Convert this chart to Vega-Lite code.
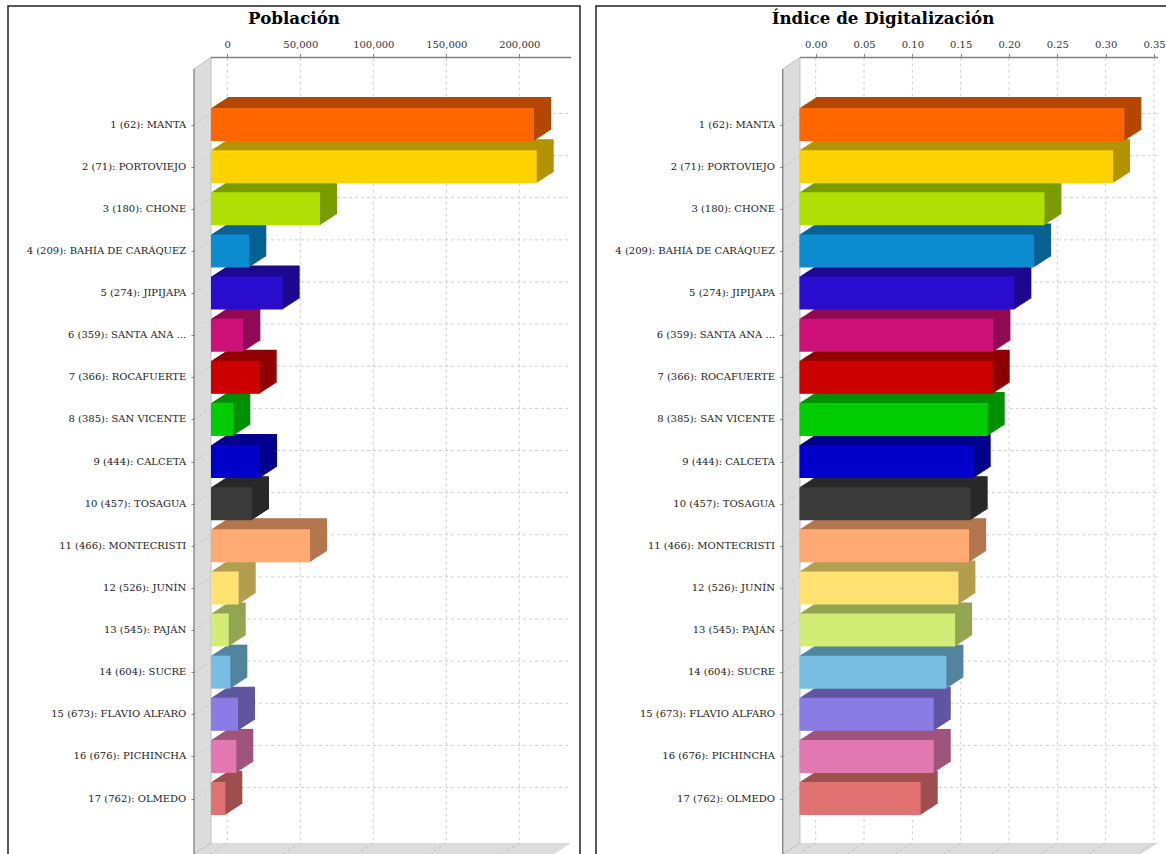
{"$schema":"https://vega.github.io/schema/vega-lite/v6.json","background":"white","padding":{"left":7,"top":5,"right":0,"bottom":0},"spacing":14,"config":{"axis":{"labelFont":"DejaVu Serif","labelFontSize":10,"labelColor":"#333","tickColor":"#808080"},"title":{"font":"DejaVu Serif","fontWeight":"bold","fontSize":16.7,"color":"black"}},
"datasets":{
"bars":[
{"rank":1,"label":"1 (62): MANTA","poblacion":221233,"indice":0.3362},
{"rank":2,"label":"2 (71): PORTOVIEJO","poblacion":223082,"indice":0.3245},
{"rank":3,"label":"3 (180): CHONE","poblacion":74657,"indice":0.2535},
{"rank":4,"label":"4 (209): BAHÍA DE CARÁQUEZ","poblacion":26230,"indice":0.2428},
{"rank":5,"label":"5 (274): JIPIJAPA","poblacion":49090,"indice":0.2224},
{"rank":6,"label":"6 (359): SANTA ANA ...","poblacion":22150,"indice":0.2007},
{"rank":7,"label":"7 (366): ROCAFUERTE","poblacion":33340,"indice":0.2},
{"rank":8,"label":"8 (385): SAN VICENTE","poblacion":15290,"indice":0.1948},
{"rank":9,"label":"9 (444): CALCETA","poblacion":33560,"indice":0.1803},
{"rank":10,"label":"10 (457): TOSAGUA","poblacion":28080,"indice":0.1772},
{"rank":11,"label":"11 (466): MONTECRISTI","poblacion":67800,"indice":0.1756},
{"rank":12,"label":"12 (526): JUNÍN","poblacion":18970,"indice":0.1645},
{"rank":13,"label":"13 (545): PAJÁN","poblacion":12120,"indice":0.1611},
{"rank":14,"label":"14 (604): SUCRE","poblacion":13250,"indice":0.1521},
{"rank":15,"label":"15 (673): FLAVIO ALFARO","poblacion":18490,"indice":0.139},
{"rank":16,"label":"16 (676): PICHINCHA","poblacion":17330,"indice":0.139},
{"rank":17,"label":"17 (762): OLMEDO","poblacion":9800,"indice":0.1255}],
"gridRows":[{"rank":1,"back":0.7389},{"rank":2,"back":1.7389},{"rank":3,"back":2.7389},{"rank":4,"back":3.7389},{"rank":5,"back":4.7389},{"rank":6,"back":5.7389},{"rank":7,"back":6.7389},{"rank":8,"back":7.7389},{"rank":9,"back":8.7389},{"rank":10,"back":9.7389},{"rank":11,"back":10.7389},{"rank":12,"back":11.7389},{"rank":13,"back":12.7389},{"rank":14,"back":13.7389},{"rank":15,"back":14.7389},{"rank":16,"back":15.7389},{"rank":17,"back":16.7389}],
"ticks1":[{"tick":0,"front":-11644},{"tick":50000,"front":38356},{"tick":100000,"front":88356},{"tick":150000,"front":138356},{"tick":200000,"front":188356}],
"ticks2":[{"tick":0,"front":-0.01759},{"tick":0.05,"front":0.03241},{"tick":0.1,"front":0.08241},{"tick":0.15,"front":0.13241},{"tick":0.2,"front":0.18241},{"tick":0.25,"front":0.23241},{"tick":0.3,"front":0.28241},{"tick":0.35,"front":0.33241}],
"wall1":[{"x":-22808,"y":-0.3175,"y2":18.3175},{"x":-11164,"y":-0.5905,"y2":18.0564}],
"floor1":[{"x":-22808,"y":18.3175,"y2":18.3175},{"x":-11164,"y":18.0564,"y2":18.3175},{"x":223767,"y":18.0564,"y2":18.3175},{"x":235411,"y":18.0564,"y2":18.0564}],
"dark1":[{"x":-11164,"x2":235411,"y":-0.5905,"y2":-0.5905},{"x":-22808,"x2":-22808,"y":-0.3175,"y2":18.3175}],
"light1":[{"x":-11164,"x2":-11164,"y":-0.5905,"y2":18.0564},{"x":-22808,"x2":-11164,"y":-0.3175,"y2":-0.5905},{"x":-22808,"x2":-11164,"y":18.3175,"y2":18.0564}],
"wall2":[{"x":-0.0341,"y":-0.3175,"y2":18.3175},{"x":-0.01624,"y":-0.5905,"y2":18.0564}],
"floor2":[{"x":-0.0341,"y":18.3175,"y2":18.3175},{"x":-0.01624,"y":18.0564,"y2":18.3175},{"x":0.3365,"y":18.0564,"y2":18.3175},{"x":0.3541,"y":18.0564,"y2":18.0564}],
"dark2":[{"x":-0.01624,"x2":0.3541,"y":-0.5905,"y2":-0.5905},{"x":-0.0341,"x2":-0.0341,"y":-0.3175,"y2":18.3175}],
"light2":[{"x":-0.01624,"x2":-0.01624,"y":-0.5905,"y2":18.0564},{"x":-0.0341,"x2":-0.01624,"y":-0.3175,"y2":-0.5905},{"x":-0.0341,"x2":-0.01624,"y":18.3175,"y2":18.0564}]
},
"hconcat":[
{"width":572,"height":864,"view":{"stroke":"#222","strokeWidth":1.5},"title":{"text":"Población","anchor":"middle","offset":-22},
"layer":[
{"data":{"name":"wall1"},"mark":{"type":"area","orient":"vertical","color":"#dcdcdc"},"encoding":{"x":{"field":"x","type":"quantitative","scale":{"domain":[-150205,241575],"nice":false,"zero":false},"title":null},"y":{"field":"y","type":"quantitative","scale":{"domain":[-1.8131,18.6973],"reverse":true,"nice":false,"zero":false,"padding":0},"title":null},"y2":{"field":"y2"}}},
{"data":{"name":"floor1"},"mark":{"type":"area","orient":"vertical","color":"#dcdcdc"},"encoding":{"x":{"field":"x","type":"quantitative","scale":{"domain":[-150205,241575],"nice":false,"zero":false},"title":null},"y":{"field":"y","type":"quantitative","scale":{"domain":[-1.8131,18.6973],"reverse":true,"nice":false,"zero":false,"padding":0},"title":null},"y2":{"field":"y2"}}},
{"data":{"name":"gridRows"},"mark":{"type":"rule","color":"#cfcfcf","strokeDash":[3,3]},"encoding":{"x":{"datum":-11164,"type":"quantitative","scale":{"domain":[-150205,241575],"nice":false,"zero":false},"title":null},"x2":{"datum":234726},"y":{"field":"back","type":"quantitative","scale":{"domain":[-1.8131,18.6973],"reverse":true,"nice":false,"zero":false,"padding":0},"title":null}}},
{"data":{"name":"gridRows"},"mark":{"type":"rule","color":"#c4c4c4","strokeDash":[3,3]},"encoding":{"x":{"datum":-22808,"type":"quantitative","scale":{"domain":[-150205,241575],"nice":false,"zero":false},"title":null},"x2":{"datum":-11164},"y":{"field":"rank","type":"quantitative","scale":{"domain":[-1.8131,18.6973],"reverse":true,"nice":false,"zero":false,"padding":0},"title":null},"y2":{"field":"back"}}},
{"data":{"name":"ticks1"},"mark":{"type":"rule","color":"#cfcfcf","strokeDash":[3,3]},"encoding":{"x":{"field":"tick","type":"quantitative","scale":{"domain":[-150205,241575],"nice":false,"zero":false},"title":null},"y":{"datum":-0.5905,"type":"quantitative","scale":{"domain":[-1.8131,18.6973],"reverse":true,"nice":false,"zero":false,"padding":0},"title":null},"y2":{"datum":18.0564}}},
{"data":{"name":"ticks1"},"mark":{"type":"rule","color":"#c4c4c4","strokeDash":[3,3]},"encoding":{"x":{"field":"tick","type":"quantitative","scale":{"domain":[-150205,241575],"nice":false,"zero":false},"title":null},"x2":{"field":"front"},"y":{"datum":18.0564,"type":"quantitative","scale":{"domain":[-1.8131,18.6973],"reverse":true,"nice":false,"zero":false,"padding":0},"title":null},"y2":{"datum":18.3175}}},
{"data":{"name":"light1"},"mark":{"type":"rule","color":"#c0c0c0"},"encoding":{"x":{"field":"x","type":"quantitative","scale":{"domain":[-150205,241575],"nice":false,"zero":false},"title":null},"x2":{"field":"x2"},"y":{"field":"y","type":"quantitative","scale":{"domain":[-1.8131,18.6973],"reverse":true,"nice":false,"zero":false,"padding":0},"title":null},"y2":{"field":"y2"}}},
{"data":{"name":"dark1"},"mark":{"type":"rule","color":"#808080","strokeWidth":1.3},"encoding":{"x":{"field":"x","type":"quantitative","scale":{"domain":[-150205,241575],"nice":false,"zero":false},"title":null},"x2":{"field":"x2"},"y":{"field":"y","type":"quantitative","scale":{"domain":[-1.8131,18.6973],"reverse":true,"nice":false,"zero":false,"padding":0},"title":null},"y2":{"field":"y2"}}},
{"data":{"name":"bars"},
"encoding":{"x":{"field":"poblacion","type":"quantitative","stack":null,"title":null,"scale":{"domain":[-150205,241575],"nice":false,"zero":false},"axis":{"orient":"top","offset":-51.5,"values":[0,50000,100000,150000,200000],"format":",d","domain":false,"grid":false,"tickSize":4,"labelPadding":4,"title":null,"zindex":1}},"x2":{"datum":0},"y":{"field":"rank","type":"quantitative","title":null,"scale":{"domain":[-1.8131,18.6973],"reverse":true,"nice":false,"zero":false,"padding":0},"axis":{"orient":"left","offset":-186,"values":[1,2,3,4,5,6,7,8,9,10,11,12,13,14,15,16,17],"labels":false,"domain":false,"grid":false,"tickSize":3,"title":null,"zindex":1}},"color":{"field":"label","type":"nominal","sort":null,"legend":null,"scale":{"domain":["1 (62): MANTA","2 (71): PORTOVIEJO","3 (180): CHONE","4 (209): BAHÍA DE CARÁQUEZ","5 (274): JIPIJAPA","6 (359): SANTA ANA ...","7 (366): ROCAFUERTE","8 (385): SAN VICENTE","9 (444): CALCETA","10 (457): TOSAGUA","11 (466): MONTECRISTI","12 (526): JUNÍN","13 (545): PAJÁN","14 (604): SUCRE","15 (673): FLAVIO ALFARO","16 (676): PICHINCHA","17 (762): OLMEDO"],"range":["#B34700","#B39300","#7A9C00","#086293","#1E0890","#8F0B53","#8F0000","#008F00","#00008C","#292929","#B3774F","#B39E4F","#93A552","#53859E","#6056A0","#9E547C","#9E4F4F"]}}},
"layer":[
{"mark":{"type":"bar","orient":"horizontal","height":33,"xOffset":0.7,"x2Offset":0.7,"yOffset":-11}},
{"mark":{"type":"bar","orient":"horizontal","height":33,"xOffset":-0.3,"x2Offset":-0.3,"yOffset":-10.4}},
{"mark":{"type":"bar","orient":"horizontal","height":33,"xOffset":-1.3,"x2Offset":-1.3,"yOffset":-9.7}},
{"mark":{"type":"bar","orient":"horizontal","height":33,"xOffset":-2.3,"x2Offset":-2.3,"yOffset":-9.1}},
{"mark":{"type":"bar","orient":"horizontal","height":33,"xOffset":-3.3,"x2Offset":-3.3,"yOffset":-8.4}},
{"mark":{"type":"bar","orient":"horizontal","height":33,"xOffset":-4.3,"x2Offset":-4.3,"yOffset":-7.8}},
{"mark":{"type":"bar","orient":"horizontal","height":33,"xOffset":-5.3,"x2Offset":-5.3,"yOffset":-7.1}},
{"mark":{"type":"bar","orient":"horizontal","height":33,"xOffset":-6.3,"x2Offset":-6.3,"yOffset":-6.5}},
{"mark":{"type":"bar","orient":"horizontal","height":33,"xOffset":-7.3,"x2Offset":-7.3,"yOffset":-5.8}},
{"mark":{"type":"bar","orient":"horizontal","height":33,"xOffset":-8.3,"x2Offset":-8.3,"yOffset":-5.2}},
{"mark":{"type":"bar","orient":"horizontal","height":33,"xOffset":-9.3,"x2Offset":-9.3,"yOffset":-4.5}},
{"mark":{"type":"bar","orient":"horizontal","height":33,"xOffset":-10.3,"x2Offset":-10.3,"yOffset":-3.9}},
{"mark":{"type":"bar","orient":"horizontal","height":33,"xOffset":-11.3,"x2Offset":-11.3,"yOffset":-3.2}},
{"mark":{"type":"bar","orient":"horizontal","height":33,"xOffset":-12.3,"x2Offset":-12.3,"yOffset":-2.6}},
{"mark":{"type":"bar","orient":"horizontal","height":33,"xOffset":-13.3,"x2Offset":-13.3,"yOffset":-1.9}},
{"mark":{"type":"bar","orient":"horizontal","height":33,"xOffset":-14.3,"x2Offset":-14.3,"yOffset":-1.3}},
{"mark":{"type":"bar","orient":"horizontal","height":33,"xOffset":-15.3,"x2Offset":-15.3,"yOffset":-0.6}}
]},
{"data":{"name":"bars"},"mark":{"type":"bar","orient":"horizontal","height":33,"xOffset":-16.3,"x2Offset":-16.3},"encoding":{"x":{"field":"poblacion","type":"quantitative","stack":null,"title":null,"scale":{"domain":[-150205,241575],"nice":false,"zero":false}},"x2":{"datum":0},"y":{"field":"rank","type":"quantitative","title":null,"scale":{"domain":[-1.8131,18.6973],"reverse":true,"nice":false,"zero":false,"padding":0}},"fill":{"field":"label","type":"nominal","sort":null,"legend":null,"scale":{"domain":["1 (62): MANTA","2 (71): PORTOVIEJO","3 (180): CHONE","4 (209): BAHÍA DE CARÁQUEZ","5 (274): JIPIJAPA","6 (359): SANTA ANA ...","7 (366): ROCAFUERTE","8 (385): SAN VICENTE","9 (444): CALCETA","10 (457): TOSAGUA","11 (466): MONTECRISTI","12 (526): JUNÍN","13 (545): PAJÁN","14 (604): SUCRE","15 (673): FLAVIO ALFARO","16 (676): PICHINCHA","17 (762): OLMEDO"],"range":["#FF6600","#FFD200","#B0E006","#0C8CD0","#2A0CCF","#CC1077","#CC0000","#00CC00","#0000C8","#3A3A3A","#FFAA72","#FFE272","#D2EC75","#77BEE2","#8A7CE4","#E278B1","#E27272"]}}}},
{"data":{"name":"bars"},"mark":{"type":"text","align":"right","baseline":"middle","font":"DejaVu Serif","fontSize":10,"color":"#222"},"encoding":{"x":{"datum":-28082,"type":"quantitative","scale":{"domain":[-150205,241575],"nice":false,"zero":false},"title":null},"y":{"field":"rank","type":"quantitative","title":null,"scale":{"domain":[-1.8131,18.6973],"reverse":true,"nice":false,"zero":false,"padding":0}},"text":{"field":"label"}}}
]},
{"width":574,"height":864,"view":{"stroke":"#222","strokeWidth":1.5},"title":{"text":"Índice de Digitalización","anchor":"middle","offset":-22},
"layer":[
{"data":{"name":"wall2"},"mark":{"type":"area","orient":"vertical","color":"#dcdcdc"},"encoding":{"x":{"field":"x","type":"quantitative","scale":{"domain":[-0.22729,0.36655],"nice":false,"zero":false},"title":null},"y":{"field":"y","type":"quantitative","scale":{"domain":[-1.8131,18.6973],"reverse":true,"nice":false,"zero":false,"padding":0},"title":null},"y2":{"field":"y2"}}},
{"data":{"name":"floor2"},"mark":{"type":"area","orient":"vertical","color":"#dcdcdc"},"encoding":{"x":{"field":"x","type":"quantitative","scale":{"domain":[-0.22729,0.36655],"nice":false,"zero":false},"title":null},"y":{"field":"y","type":"quantitative","scale":{"domain":[-1.8131,18.6973],"reverse":true,"nice":false,"zero":false,"padding":0},"title":null},"y2":{"field":"y2"}}},
{"data":{"name":"gridRows"},"mark":{"type":"rule","color":"#cfcfcf","strokeDash":[3,3]},"encoding":{"x":{"datum":-0.01624,"type":"quantitative","scale":{"domain":[-0.22729,0.36655],"nice":false,"zero":false},"title":null},"x2":{"datum":0.3541},"y":{"field":"back","type":"quantitative","scale":{"domain":[-1.8131,18.6973],"reverse":true,"nice":false,"zero":false,"padding":0},"title":null}}},
{"data":{"name":"gridRows"},"mark":{"type":"rule","color":"#c4c4c4","strokeDash":[3,3]},"encoding":{"x":{"datum":-0.0341,"type":"quantitative","scale":{"domain":[-0.22729,0.36655],"nice":false,"zero":false},"title":null},"x2":{"datum":-0.01624},"y":{"field":"rank","type":"quantitative","scale":{"domain":[-1.8131,18.6973],"reverse":true,"nice":false,"zero":false,"padding":0},"title":null},"y2":{"field":"back"}}},
{"data":{"name":"ticks2"},"mark":{"type":"rule","color":"#cfcfcf","strokeDash":[3,3]},"encoding":{"x":{"field":"tick","type":"quantitative","scale":{"domain":[-0.22729,0.36655],"nice":false,"zero":false},"title":null},"y":{"datum":-0.5905,"type":"quantitative","scale":{"domain":[-1.8131,18.6973],"reverse":true,"nice":false,"zero":false,"padding":0},"title":null},"y2":{"datum":18.0564}}},
{"data":{"name":"ticks2"},"mark":{"type":"rule","color":"#c4c4c4","strokeDash":[3,3]},"encoding":{"x":{"field":"tick","type":"quantitative","scale":{"domain":[-0.22729,0.36655],"nice":false,"zero":false},"title":null},"x2":{"field":"front"},"y":{"datum":18.0564,"type":"quantitative","scale":{"domain":[-1.8131,18.6973],"reverse":true,"nice":false,"zero":false,"padding":0},"title":null},"y2":{"datum":18.3175}}},
{"data":{"name":"light2"},"mark":{"type":"rule","color":"#c0c0c0"},"encoding":{"x":{"field":"x","type":"quantitative","scale":{"domain":[-0.22729,0.36655],"nice":false,"zero":false},"title":null},"x2":{"field":"x2"},"y":{"field":"y","type":"quantitative","scale":{"domain":[-1.8131,18.6973],"reverse":true,"nice":false,"zero":false,"padding":0},"title":null},"y2":{"field":"y2"}}},
{"data":{"name":"dark2"},"mark":{"type":"rule","color":"#808080","strokeWidth":1.3},"encoding":{"x":{"field":"x","type":"quantitative","scale":{"domain":[-0.22729,0.36655],"nice":false,"zero":false},"title":null},"x2":{"field":"x2"},"y":{"field":"y","type":"quantitative","scale":{"domain":[-1.8131,18.6973],"reverse":true,"nice":false,"zero":false,"padding":0},"title":null},"y2":{"field":"y2"}}},
{"data":{"name":"bars"},
"encoding":{"x":{"field":"indice","type":"quantitative","stack":null,"title":null,"scale":{"domain":[-0.22729,0.36655],"nice":false,"zero":false},"axis":{"orient":"top","offset":-51.5,"values":[0,0.05,0.1,0.15,0.2,0.25,0.3,0.35],"format":".2f","domain":false,"grid":false,"tickSize":4,"labelPadding":4,"title":null,"zindex":1}},"x2":{"datum":0},"y":{"field":"rank","type":"quantitative","title":null,"scale":{"domain":[-1.8131,18.6973],"reverse":true,"nice":false,"zero":false,"padding":0},"axis":{"orient":"left","offset":-186.7,"values":[1,2,3,4,5,6,7,8,9,10,11,12,13,14,15,16,17],"labels":false,"domain":false,"grid":false,"tickSize":3,"title":null,"zindex":1}},"color":{"field":"label","type":"nominal","sort":null,"legend":null,"scale":{"domain":["1 (62): MANTA","2 (71): PORTOVIEJO","3 (180): CHONE","4 (209): BAHÍA DE CARÁQUEZ","5 (274): JIPIJAPA","6 (359): SANTA ANA ...","7 (366): ROCAFUERTE","8 (385): SAN VICENTE","9 (444): CALCETA","10 (457): TOSAGUA","11 (466): MONTECRISTI","12 (526): JUNÍN","13 (545): PAJÁN","14 (604): SUCRE","15 (673): FLAVIO ALFARO","16 (676): PICHINCHA","17 (762): OLMEDO"],"range":["#B34700","#B39300","#7A9C00","#086293","#1E0890","#8F0B53","#8F0000","#008F00","#00008C","#292929","#B3774F","#B39E4F","#93A552","#53859E","#6056A0","#9E547C","#9E4F4F"]}}},
"layer":[
{"mark":{"type":"bar","orient":"horizontal","height":33,"xOffset":0.7,"x2Offset":0.7,"yOffset":-11}},
{"mark":{"type":"bar","orient":"horizontal","height":33,"xOffset":-0.3,"x2Offset":-0.3,"yOffset":-10.4}},
{"mark":{"type":"bar","orient":"horizontal","height":33,"xOffset":-1.3,"x2Offset":-1.3,"yOffset":-9.7}},
{"mark":{"type":"bar","orient":"horizontal","height":33,"xOffset":-2.3,"x2Offset":-2.3,"yOffset":-9.1}},
{"mark":{"type":"bar","orient":"horizontal","height":33,"xOffset":-3.3,"x2Offset":-3.3,"yOffset":-8.4}},
{"mark":{"type":"bar","orient":"horizontal","height":33,"xOffset":-4.3,"x2Offset":-4.3,"yOffset":-7.8}},
{"mark":{"type":"bar","orient":"horizontal","height":33,"xOffset":-5.3,"x2Offset":-5.3,"yOffset":-7.1}},
{"mark":{"type":"bar","orient":"horizontal","height":33,"xOffset":-6.3,"x2Offset":-6.3,"yOffset":-6.5}},
{"mark":{"type":"bar","orient":"horizontal","height":33,"xOffset":-7.3,"x2Offset":-7.3,"yOffset":-5.8}},
{"mark":{"type":"bar","orient":"horizontal","height":33,"xOffset":-8.3,"x2Offset":-8.3,"yOffset":-5.2}},
{"mark":{"type":"bar","orient":"horizontal","height":33,"xOffset":-9.3,"x2Offset":-9.3,"yOffset":-4.5}},
{"mark":{"type":"bar","orient":"horizontal","height":33,"xOffset":-10.3,"x2Offset":-10.3,"yOffset":-3.9}},
{"mark":{"type":"bar","orient":"horizontal","height":33,"xOffset":-11.3,"x2Offset":-11.3,"yOffset":-3.2}},
{"mark":{"type":"bar","orient":"horizontal","height":33,"xOffset":-12.3,"x2Offset":-12.3,"yOffset":-2.6}},
{"mark":{"type":"bar","orient":"horizontal","height":33,"xOffset":-13.3,"x2Offset":-13.3,"yOffset":-1.9}},
{"mark":{"type":"bar","orient":"horizontal","height":33,"xOffset":-14.3,"x2Offset":-14.3,"yOffset":-1.3}},
{"mark":{"type":"bar","orient":"horizontal","height":33,"xOffset":-15.3,"x2Offset":-15.3,"yOffset":-0.6}}
]},
{"data":{"name":"bars"},"mark":{"type":"bar","orient":"horizontal","height":33,"xOffset":-16.3,"x2Offset":-16.3},"encoding":{"x":{"field":"indice","type":"quantitative","stack":null,"title":null,"scale":{"domain":[-0.22729,0.36655],"nice":false,"zero":false}},"x2":{"datum":0},"y":{"field":"rank","type":"quantitative","title":null,"scale":{"domain":[-1.8131,18.6973],"reverse":true,"nice":false,"zero":false,"padding":0}},"fill":{"field":"label","type":"nominal","sort":null,"legend":null,"scale":{"domain":["1 (62): MANTA","2 (71): PORTOVIEJO","3 (180): CHONE","4 (209): BAHÍA DE CARÁQUEZ","5 (274): JIPIJAPA","6 (359): SANTA ANA ...","7 (366): ROCAFUERTE","8 (385): SAN VICENTE","9 (444): CALCETA","10 (457): TOSAGUA","11 (466): MONTECRISTI","12 (526): JUNÍN","13 (545): PAJÁN","14 (604): SUCRE","15 (673): FLAVIO ALFARO","16 (676): PICHINCHA","17 (762): OLMEDO"],"range":["#FF6600","#FFD200","#B0E006","#0C8CD0","#2A0CCF","#CC1077","#CC0000","#00CC00","#0000C8","#3A3A3A","#FFAA72","#FFE272","#D2EC75","#77BEE2","#8A7CE4","#E278B1","#E27272"]}}}},
{"data":{"name":"bars"},"mark":{"type":"text","align":"right","baseline":"middle","font":"DejaVu Serif","fontSize":10,"color":"#222"},"encoding":{"x":{"datum":-0.04211,"type":"quantitative","scale":{"domain":[-0.22729,0.36655],"nice":false,"zero":false},"title":null},"y":{"field":"rank","type":"quantitative","title":null,"scale":{"domain":[-1.8131,18.6973],"reverse":true,"nice":false,"zero":false,"padding":0}},"text":{"field":"label"}}}
]}
]}
